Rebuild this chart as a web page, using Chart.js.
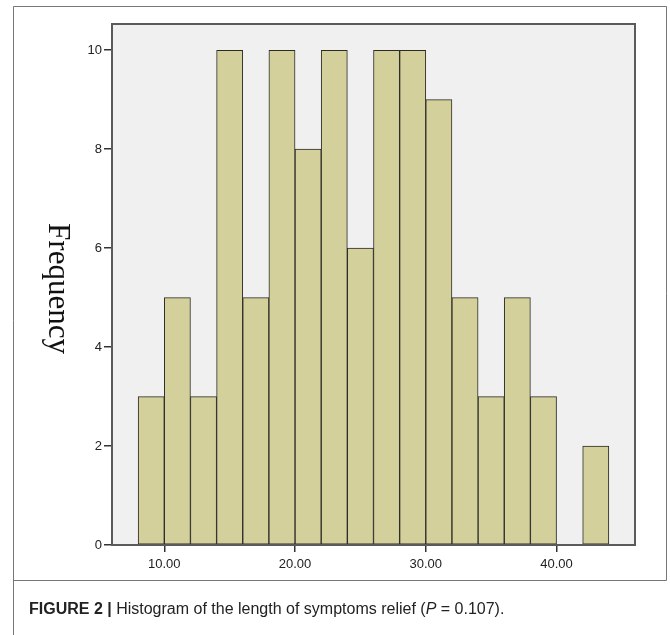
<!DOCTYPE html>
<html>
<head>
<meta charset="utf-8">
<script src="https://cdn.jsdelivr.net/npm/chart.js@4.4.0/dist/chart.umd.min.js"></script>
<style>
  html, body { margin: 0; padding: 0; background: #fff; }
  #wrap { position: relative; width: 670px; height: 635px; overflow: hidden; }
  #histChart { position: absolute; left: 0; top: 0; }
  #caption {
    position: absolute; left: 29px; top: 600px;
    font: 16px "Liberation Sans", Arial, sans-serif; color: #222; white-space: nowrap;
  }
</style>
</head>
<body>
<div id="wrap">
  <canvas id="histChart" width="670" height="635"></canvas>
  <div id="caption"><b>FIGURE 2 |</b> Histogram of the length of symptoms relief (<i>P</i> = 0.107).</div>
</div>
<script>
// histogram bins (start of each 2-unit bin) and counts
const binStarts = [8, 10, 12, 14, 16, 18, 20, 22, 24, 26, 28, 30, 32, 34, 36, 38, 40, 42];
const binWidth = 2;
const frequencies = [3, 5, 3, 10, 5, 10, 8, 10, 6, 10, 10, 9, 5, 3, 5, 3, 0, 2];
const xTickValues = [10, 20, 30, 40];
const yTickValues = [0, 2, 4, 6, 8, 10];
const yTitle = 'Frequency';

// gray plot background, plot border, outer frame and the rotated y title
const framePlugin = {
  id: 'framePlugin',
  beforeDraw(chart) {
    const { ctx, chartArea: a } = chart;
    ctx.save();
    ctx.fillStyle = '#f0f0f0';
    ctx.fillRect(a.left, a.top, a.right - a.left, a.bottom - a.top);
    ctx.restore();
  },
  afterDraw(chart) {
    const { ctx, chartArea: a } = chart;
    ctx.save();
    ctx.strokeStyle = '#5a5a5a';
    ctx.lineWidth = 2;
    ctx.strokeRect(a.left, a.top, a.right - a.left, a.bottom - a.top);

    // outer figure frame
    ctx.strokeStyle = '#777';
    ctx.lineWidth = 1;
    ctx.beginPath();
    ctx.moveTo(13.5, 635);
    ctx.lineTo(13.5, 6.5);
    ctx.lineTo(666.5, 6.5);
    ctx.lineTo(666.5, 580.5);
    ctx.lineTo(13.5, 580.5);
    ctx.stroke();

    // y title, reading top to bottom, centred on the plot
    ctx.translate(49, (a.top + a.bottom) / 2 + 4);
    ctx.rotate(Math.PI / 2);
    ctx.fillStyle = '#111';
    ctx.font = '31px "Liberation Serif", "Times New Roman", serif';
    ctx.textAlign = 'center';
    ctx.textBaseline = 'alphabetic';
    ctx.fillText(yTitle, 0, 0);
    ctx.restore();
  }
};

const ctx = document.getElementById('histChart').getContext('2d');

new Chart(ctx, {
  type: 'bar',
  data: {
    datasets: [{
      label: yTitle,
      data: binStarts.map((s, i) => ({ x: s + binWidth / 2, y: frequencies[i] })),
      backgroundColor: '#d3d09b',
      borderColor: '#2b2b27',
      borderWidth: 1,
      borderSkipped: false,
      barPercentage: 1,
      categoryPercentage: 1
    }]
  },
  options: {
    responsive: false,
    animation: false,
    layout: { padding: { left: 0, right: 35, top: 24, bottom: 0 } },
    plugins: {
      legend: { display: false },
      tooltip: { enabled: false }
    },
    scales: {
      x: {
        type: 'linear',
        min: 6,
        max: 46,
        offset: false,
        afterBuildTicks: (scale) => { scale.ticks = xTickValues.map(v => ({ value: v })); },
        afterFit: (scale) => { scale.height = 90; },
        ticks: {
          callback: (v) => v.toFixed(2),
          color: '#222',
          font: { family: '"Liberation Sans", Arial, sans-serif', size: 13 },
          padding: 5,
          maxRotation: 0
        },
        grid: { offset: false, drawOnChartArea: false, drawTicks: true, tickLength: 7, color: '#333', lineWidth: 1.5 },
        border: { display: true, color: '#5a5a5a', width: 2 }
      },
      y: {
        min: 0,
        max: 10.53,
        afterBuildTicks: (scale) => { scale.ticks = yTickValues.map(v => ({ value: v })); },
        afterFit: (scale) => { scale.width = 112; },
        ticks: {
          color: '#222',
          font: { family: '"Liberation Sans", Arial, sans-serif', size: 13 },
          padding: 2
        },
        grid: { offset: false, drawOnChartArea: false, drawTicks: true, tickLength: 8, color: '#333', lineWidth: 1.5 },
        border: { display: true, color: '#5a5a5a', width: 2 }
      }
    }
  },
  plugins: [framePlugin]
});
</script>
</body>
</html>
